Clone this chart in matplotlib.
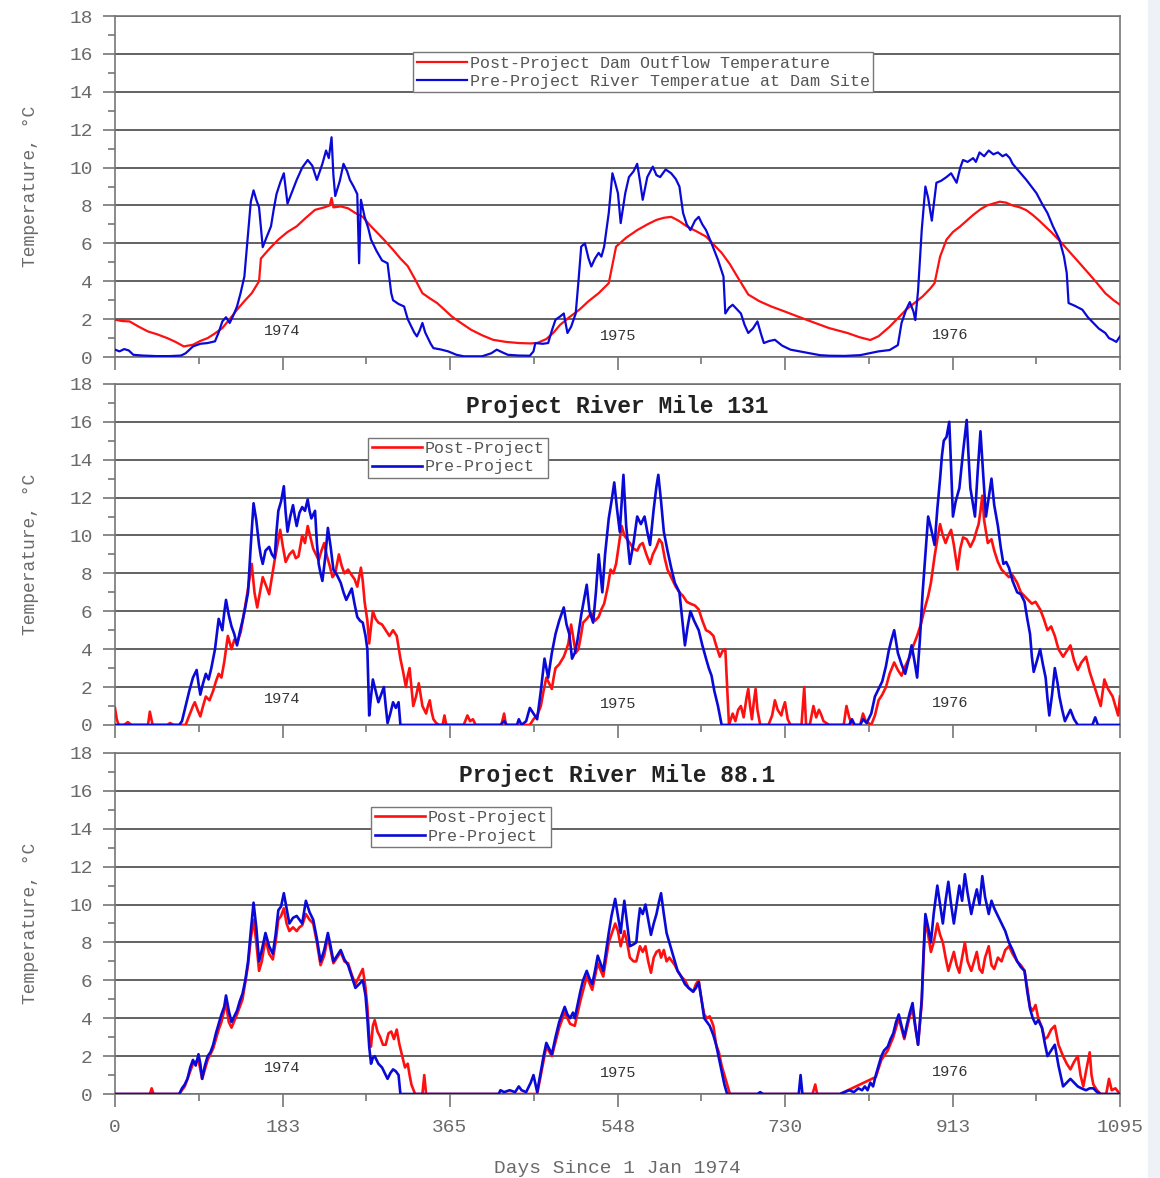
import numpy as np
import matplotlib
matplotlib.use('Agg')
import matplotlib.pyplot as plt
from matplotlib.patches import Rectangle
from matplotlib.ticker import MultipleLocator

plt.rcParams['font.family'] = ['Liberation Mono', 'DejaVu Sans']

# (day, temperature degC)
top_post = [(0,1.97),(8,1.9),(16,1.88),(26,1.6),(36,1.35),(46,1.2),(57,1.0),(66,0.8),(75,0.56),(85,0.65),(93,0.85),(101,1.0),(109,1.25),(117,1.53),(125,2.0),(133,2.5),(141,2.95),(149,3.37),(157,4.0),(159,5.2),(168,5.7),(178,6.2),(188,6.6),(198,6.9),(208,7.35),(218,7.77),(228,7.9),(234,8.0),(236,8.4),(238,7.9),(246,7.95),(254,7.85),(262,7.6),(270,7.4),(277,7.0),(283,6.7),(293,6.2),(303,5.66),(311,5.2),(319,4.8),(327,4.1),(335,3.37),(343,3.1),(351,2.85),(359,2.5),(367,2.14),(377,1.8),(388,1.44),(400,1.15),(412,0.91),(426,0.8),(440,0.74),(452,0.72),(460,0.74),(470,0.95),(478,1.3),(485,1.7),(495,2.1),(506,2.5),(516,2.95),(527,3.37),(538,3.9),(546,5.83),(557,6.3),(569,6.7),(580,7.0),(590,7.24),(598,7.35),(606,7.4),(614,7.2),(623,6.9),(633,6.65),(644,6.36),(652,5.95),(661,5.5),(670,4.9),(678,4.25),(690,3.3),(702,2.95),(715,2.67),(730,2.4),(744,2.14),(760,1.85),(778,1.53),(798,1.27),(811,1.05),(823,0.9),(832,1.1),(844,1.6),(853,2.05),(862,2.5),(871,2.85),(880,3.2),(888,3.6),(893,3.9),(899,5.3),(906,6.2),(913,6.6),(921,6.9),(928,7.2),(935,7.5),(943,7.8),(950,8.0),(957,8.1),(964,8.2),(971,8.15),(978,8.0),(986,7.9),(993,7.75),(1000,7.5),(1007,7.2),(1020,6.6),(1030,6.1),(1041,5.5),(1052,4.9),(1062,4.35),(1070,3.9),(1079,3.37),(1088,3.0),(1095,2.76)]

top_pre = [(0,0.39),(5,0.3),(10,0.42),(15,0.35),(20,0.12),(30,0.08),(45,0.05),(60,0.05),(72,0.08),(77,0.2),(85,0.56),(93,0.7),(101,0.74),(109,0.83),(113,1.3),(117,1.88),(121,2.1),(125,1.8),(129,2.2),(133,2.67),(137,3.4),(141,4.25),(145,6.5),(148,8.2),(151,8.8),(154,8.3),(157,7.9),(161,5.8),(165,6.3),(170,6.9),(173,7.8),(176,8.6),(180,9.2),(184,9.7),(188,8.1),(192,8.6),(198,9.35),(204,10.0),(210,10.4),(215,10.1),(220,9.35),(226,10.2),(230,10.9),(233,10.5),(236,11.6),(238,9.6),(240,8.5),(245,9.3),(249,10.2),(253,9.8),(256,9.35),(260,9.0),(264,8.6),(266,4.95),(268,8.3),(272,7.4),(276,6.8),(279,6.2),(285,5.6),(291,5.1),(297,4.95),(301,3.37),(303,3.0),(309,2.8),(315,2.67),(319,2.0),(323,1.6),(326,1.3),(329,1.09),(332,1.4),(335,1.8),(338,1.3),(341,1.0),(344,0.7),(347,0.47),(355,0.4),(363,0.3),(372,0.12),(380,0.04),(400,0.04),(410,0.2),(416,0.39),(422,0.25),(428,0.12),(440,0.08),(452,0.07),(456,0.3),(458,0.74),(466,0.7),(472,0.74),(476,1.4),(480,1.97),(485,2.14),(489,2.3),(493,1.27),(497,1.6),(502,2.3),(505,4.0),(508,5.83),(512,6.0),(516,5.2),(519,4.78),(523,5.2),(527,5.5),(530,5.3),(533,5.83),(538,7.6),(542,9.7),(545,9.2),(548,8.65),(551,7.07),(556,8.65),(560,9.5),(565,9.8),(569,10.2),(572,9.3),(575,8.3),(580,9.5),(586,10.05),(590,9.6),(594,9.5),(600,9.9),(606,9.7),(611,9.4),(615,9.0),(619,7.6),(623,7.0),(627,6.7),(632,7.2),(636,7.4),(640,7.0),(644,6.7),(650,6.0),(657,5.13),(663,4.25),(665,2.3),(669,2.6),(673,2.76),(678,2.5),(682,2.3),(686,1.7),(690,1.27),(695,1.5),(700,1.88),(704,1.2),(707,0.74),(713,0.85),(719,0.91),(727,0.6),(736,0.39),(746,0.3),(757,0.2),(768,0.1),(778,0.07),(795,0.06),(812,0.1),(822,0.2),(832,0.3),(844,0.37),(853,0.63),(857,1.8),(862,2.5),(866,2.9),(870,2.4),(872,1.95),(875,3.5),(879,6.7),(883,9.0),(886,8.4),(890,7.2),(895,9.2),(900,9.3),(906,9.5),(911,9.7),(917,9.2),(921,10.0),(924,10.4),(929,10.3),(935,10.5),(938,10.3),(942,10.8),(947,10.6),(952,10.9),(957,10.7),(962,10.8),(967,10.6),(971,10.7),(975,10.5),(978,10.2),(985,9.8),(993,9.35),(1004,8.65),(1010,8.1),(1016,7.6),(1022,6.9),(1029,6.2),(1034,5.3),(1037,4.43),(1039,2.85),(1046,2.7),(1054,2.5),(1060,2.1),(1066,1.8),(1072,1.5),(1079,1.27),(1083,1.0),(1087,0.91),(1091,0.8),(1095,1.09)]

rm131_post = [(0,0.9),(2,0.3),(4,0),(10,0),(14,0.15),(18,0),(36,0),(38,0.7),(41,0),(57,0),(60,0.1),(64,0),(77,0),(81,0.5),(85,1.0),(87,1.2),(90,0.8),(93,0.45),(96,1.0),(99,1.5),(103,1.3),(107,1.8),(110,2.3),(113,2.7),(116,2.5),(119,3.3),(123,4.7),(127,4.0),(130,4.5),(133,4.3),(137,4.9),(141,6.0),(145,7.2),(149,8.5),(152,7.0),(155,6.2),(158,7.0),(161,7.8),(165,7.3),(168,6.9),(171,7.8),(174,8.7),(177,9.5),(180,10.3),(183,9.4),(186,8.6),(190,9.0),(194,9.2),(197,8.8),(200,8.9),(204,10.0),(207,9.6),(210,10.5),(213,9.9),(216,9.3),(219,9.0),(222,8.7),(225,9.2),(228,9.6),(231,8.9),(234,8.4),(237,7.8),(240,8.0),(244,9.0),(247,8.4),(250,8.0),(254,8.2),(258,7.9),(261,7.7),(264,7.3),(266,7.8),(268,8.3),(270,7.6),(272,6.5),(275,5.5),(277,4.3),(279,5.2),(281,6.0),(284,5.6),(287,5.4),(291,5.3),(295,5.0),(299,4.7),(303,5.0),(307,4.7),(309,4.1),(311,3.5),(314,2.8),(317,2.0),(319,2.6),(321,3.0),(323,2.0),(325,1.0),(328,1.5),(331,2.2),(333,1.6),(335,1.0),(337,0.8),(339,0.6),(341,1.0),(343,1.3),(345,0.7),(347,0.3),(350,0.1),(353,0),(357,0),(359,0.5),(361,0),(380,0),(384,0.5),(387,0.2),(390,0.3),(393,0),(421,0),(424,0.6),(426,0),(452,0),(456,0.3),(460,0.5),(464,1.0),(467,1.8),(470,2.5),(473,2.2),(476,1.9),(478,2.5),(480,3.0),(484,3.2),(489,3.6),(492,4.0),(494,4.3),(497,5.3),(500,4.4),(502,3.8),(505,4.0),(508,4.8),(510,5.4),(514,5.6),(519,5.9),(523,5.5),(527,5.7),(530,6.1),(533,6.4),(537,7.3),(540,8.2),(543,8.0),(546,8.5),(549,9.5),(552,10.5),(555,10.0),(558,9.8),(561,9.6),(565,9.3),(569,9.2),(572,9.5),(575,9.6),(579,9.0),(583,8.5),(586,9.0),(590,9.4),(593,9.8),(596,9.6),(599,8.8),(602,8.2),(606,7.8),(611,7.3),(615,7.0),(619,6.8),(623,6.5),(627,6.4),(632,6.3),(636,6.1),(640,5.5),(644,5.0),(648,4.9),(652,4.7),(655,4.2),(659,3.6),(662,3.9),(665,4.0),(667,2.0),(669,0),(671,0.3),(673,0.6),(676,0.2),(679,0.8),(682,1.0),(685,0.4),(688,1.4),(690,1.9),(692,1.0),(694,0.3),(696,1.2),(698,1.9),(700,0.8),(703,0),(712,0),(716,0.5),(719,1.3),(722,0.8),(726,0.5),(728,0.9),(730,1.2),(733,0.3),(736,0),(748,0),(751,2.0),(753,0),(757,0),(761,1.0),(764,0.4),(767,0.8),(769,0.6),(772,0.2),(778,0),(794,0),(797,1.0),(800,0.4),(803,0),(812,0),(815,0.6),(818,0.2),(824,0),(828,0.5),(832,1.3),(836,1.6),(840,2.0),(844,2.7),(849,3.3),(853,2.9),(857,2.6),(861,3.1),(866,3.6),(870,4.2),(874,4.7),(878,5.3),(882,6.1),(886,6.8),(889,7.5),(893,8.9),(896,9.8),(899,10.6),(902,10.0),(905,9.6),(908,10.0),(911,10.3),(914,9.5),(918,8.2),(921,9.3),(924,9.9),(928,9.8),(932,9.4),(936,9.8),(939,10.3),(941,10.6),(943,11.3),(945,12.1),(947,10.8),(951,9.6),(955,9.8),(958,9.2),(962,8.6),(966,8.2),(970,8.0),(974,7.8),(978,7.9),(983,7.5),(987,7.0),(991,6.8),(995,6.6),(999,6.4),(1003,6.5),(1008,6.1),(1012,5.6),(1016,5.0),(1020,5.2),(1024,4.7),(1028,4.0),(1033,3.6),(1037,3.9),(1041,4.2),(1045,3.4),(1049,2.9),(1053,3.3),(1058,3.6),(1062,2.8),(1066,2.2),(1070,1.6),(1074,1.0),(1078,2.4),(1082,1.9),(1087,1.5),(1090,1.0),(1093,0.5),(1095,1.5)]

rm131_pre = [(0,0),(70,0),(73,0.2),(77,1.0),(81,1.8),(85,2.5),(89,2.9),(91,2.2),(93,1.6),(96,2.2),(99,2.7),(102,2.4),(105,3.0),(109,4.0),(113,5.6),(115,5.3),(117,5.0),(119,5.9),(121,6.6),(124,5.8),(127,5.2),(130,4.8),(133,4.2),(136,4.9),(139,5.5),(142,6.2),(145,7.0),(148,9.5),(151,11.7),(154,10.8),(157,9.5),(159,8.9),(161,8.5),(164,9.2),(168,9.4),(171,9.0),(174,8.8),(176,10.2),(178,11.3),(181,11.8),(184,12.6),(186,11.2),(188,10.2),(191,11.0),(194,11.6),(196,11.0),(198,10.5),(201,11.2),(204,11.5),(207,11.3),(210,11.9),(212,11.3),(214,10.9),(216,11.1),(218,11.3),(220,9.6),(222,8.5),(224,8.0),(226,7.6),(229,8.8),(232,10.4),(235,9.4),(238,8.2),(242,7.9),(246,7.5),(249,7.0),(252,6.6),(255,6.9),(258,7.2),(261,6.4),(264,5.7),(267,5.5),(270,5.4),(273,4.7),(275,4.0),(277,0.5),(279,1.5),(281,2.4),(284,1.8),(287,1.2),(290,1.6),(293,2.0),(295,1.0),(297,0.1),(300,0.6),(303,1.2),(306,0.9),(309,1.2),(311,0),(420,0),(424,0.2),(427,0),(438,0),(440,0.3),(443,0),(448,0.2),(452,0.9),(456,0.6),(460,0.3),(464,1.8),(468,3.5),(472,2.5),(476,3.8),(480,4.8),(484,5.5),(489,6.2),(492,5.3),(495,4.8),(498,3.5),(501,3.8),(504,4.5),(508,5.8),(511,6.6),(514,7.4),(517,6.0),(521,5.4),(524,7.0),(527,9.0),(529,8.0),(531,7.0),(534,9.0),(538,10.9),(541,11.8),(544,12.8),(547,11.4),(550,10.2),(552,11.7),(554,13.2),(557,10.5),(561,8.5),(565,9.6),(569,11.0),(573,10.6),(577,11.0),(580,10.2),(583,9.5),(587,11.4),(590,12.6),(592,13.2),(595,11.8),(598,10.2),(602,9.2),(606,8.3),(610,7.5),(615,7.0),(618,5.6),(621,4.2),(624,5.2),(627,6.0),(631,5.5),(636,5.0),(640,4.2),(644,3.5),(647,3.0),(650,2.6),(653,1.8),(657,1.0),(661,0),(800,0),(803,0.3),(806,0),(812,0),(815,0.3),(819,0.1),(824,0.6),(828,1.5),(832,1.9),(836,2.3),(840,3.1),(843,3.9),(846,4.5),(849,5.0),(853,3.8),(857,3.2),(861,2.7),(865,3.5),(868,4.2),(871,3.4),(874,2.5),(877,4.5),(880,7.0),(883,9.0),(886,11.0),(889,10.4),(893,9.5),(896,11.4),(899,13.0),(901,14.2),(903,15.0),(906,15.2),(909,16.0),(911,13.6),(913,11.0),(916,11.8),(920,12.5),(924,14.4),(928,16.1),(930,14.2),(932,12.5),(935,11.6),(937,11.0),(940,13.4),(943,15.5),(946,13.2),(949,11.0),(952,12.0),(955,13.0),(958,11.6),(962,10.5),(965,9.4),(968,8.5),(971,8.6),(974,8.3),(978,7.6),(983,7.0),(987,6.9),(991,6.5),(994,5.6),(997,4.8),(999,3.6),(1001,2.8),(1004,3.3),(1008,4.0),(1011,3.2),(1014,2.5),(1016,1.4),(1018,0.5),(1021,1.6),(1024,3.0),(1027,2.2),(1029,1.5),(1032,0.8),(1035,0.2),(1038,0.5),(1041,0.8),(1045,0.3),(1049,0),(1065,0),(1068,0.4),(1071,0),(1095,0)]

rm88_post = [(0,0),(38,0),(40,0.3),(42,0),(70,0),(76,0.4),(82,1.2),(85,1.6),(91,1.8),(95,0.8),(101,1.8),(107,2.4),(113,3.4),(116,3.8),(121,4.8),(124,3.8),(127,3.5),(133,4.2),(139,5.0),(145,6.8),(148,8.2),(151,9.2),(154,8.0),(157,6.5),(160,7.0),(164,8.2),(168,7.4),(172,7.1),(175,8.0),(178,9.2),(181,9.4),(184,9.8),(187,9.0),(190,8.6),(194,8.8),(198,8.6),(201,8.8),(204,8.9),(208,9.5),(212,9.2),(216,9.0),(220,8.0),(224,6.8),(228,7.3),(232,8.3),(235,7.6),(238,6.9),(242,7.2),(246,7.5),(250,7.0),(254,6.9),(258,6.3),(262,5.8),(266,6.2),(270,6.6),(273,5.6),(275,4.6),(277,3.0),(279,2.5),(281,3.6),(283,3.9),(286,3.3),(289,3.0),(292,2.6),(295,2.6),(298,3.2),(301,3.3),(304,2.9),(307,3.4),(310,2.6),(313,2.0),(316,1.4),(319,1.6),(321,1.0),(323,0.5),(327,0),(335,0),(337,1.0),(339,0),(460,0),(464,1.0),(470,2.5),(476,2.0),(484,3.5),(490,4.3),(496,3.7),(501,3.6),(507,4.9),(514,6.2),(520,5.5),(526,6.9),(532,6.2),(538,8.0),(545,9.0),(548,8.6),(551,7.8),(555,8.6),(558,8.0),(561,7.2),(565,7.0),(568,7.0),(572,7.8),(575,7.5),(578,7.8),(581,7.0),(584,6.4),(587,7.2),(590,7.5),(593,7.6),(595,7.2),(598,7.6),(601,7.0),(604,7.2),(607,7.0),(610,6.8),(613,6.5),(617,6.2),(621,6.0),(625,5.6),(630,5.4),(633,5.8),(636,6.0),(639,5.0),(642,4.2),(645,4.0),(648,4.1),(652,3.6),(655,2.6),(658,2.2),(661,1.5),(664,1.0),(667,0.5),(670,0),(760,0),(763,0.5),(765,0),(790,0),(829,0.9),(835,1.8),(842,2.3),(848,3.0),(854,4.0),(860,2.9),(866,4.1),(869,4.5),(872,3.5),(875,2.6),(879,4.8),(881,7.2),(883,9.2),(886,8.4),(889,7.5),(892,8.0),(896,9.0),(899,8.4),(902,8.0),(905,7.2),(908,6.5),(911,7.0),(914,7.5),(917,6.8),(920,6.4),(923,7.2),(926,8.0),(929,7.0),(933,6.5),(936,7.0),(939,7.5),(942,6.6),(945,6.4),(948,7.2),(952,7.8),(955,6.8),(958,6.6),(962,7.2),(966,7.0),(970,7.6),(974,7.8),(978,7.4),(983,7.0),(987,6.8),(991,6.5),(994,5.6),(997,4.6),(1000,4.4),(1003,4.7),(1006,4.0),(1010,3.5),(1013,2.9),(1016,3.0),(1020,3.4),(1024,3.6),(1028,2.6),(1033,2.0),(1037,1.6),(1041,1.3),(1045,1.7),(1049,2.0),(1052,1.0),(1055,0.4),(1058,1.2),(1062,2.2),(1064,1.0),(1066,0.5),(1070,0.2),(1074,0),(1080,0),(1083,0.8),(1086,0.2),(1090,0.3),(1095,0)]

rm88_pre = [(0,0),(70,0),(73,0.3),(76,0.5),(79,0.8),(82,1.4),(85,1.8),(88,1.5),(91,2.1),(93,1.6),(95,0.8),(98,1.5),(101,2.0),(104,2.2),(107,2.6),(110,3.2),(113,3.7),(116,4.2),(119,4.6),(121,5.2),(124,4.4),(127,3.8),(130,4.1),(133,4.4),(136,4.9),(139,5.3),(142,6.0),(145,7.0),(148,8.6),(151,10.1),(154,8.8),(157,7.0),(160,7.6),(164,8.5),(168,7.8),(172,7.4),(175,8.4),(178,9.7),(181,9.9),(184,10.6),(187,9.8),(190,9.0),(194,9.3),(198,9.4),(201,9.2),(204,9.0),(206,9.6),(208,10.2),(212,9.6),(216,9.2),(220,8.2),(224,7.0),(228,7.6),(232,8.5),(235,7.8),(238,7.0),(242,7.3),(246,7.6),(250,7.1),(254,6.8),(258,6.2),(262,5.6),(266,5.8),(270,6.0),(273,5.2),(275,4.0),(277,2.5),(279,1.6),(281,1.9),(283,2.0),(287,1.6),(291,1.4),(294,1.1),(297,0.8),(300,1.1),(303,1.3),(306,1.2),(309,1.0),(311,0),(418,0),(420,0.2),(424,0.1),(430,0.2),(436,0.1),(440,0.4),(443,0.2),(448,0.1),(453,0.6),(456,1.0),(460,0.1),(464,1.2),(467,2.0),(470,2.7),(473,2.4),(476,2.1),(480,3.0),(484,3.8),(487,4.2),(490,4.6),(493,4.2),(496,4.0),(499,4.3),(501,4.0),(504,4.7),(507,5.4),(510,6.0),(514,6.5),(517,6.1),(520,5.8),(523,6.5),(526,7.3),(529,6.9),(532,6.5),(535,7.5),(538,8.5),(541,9.4),(545,10.3),(548,9.4),(551,8.5),(553,9.4),(555,10.2),(558,9.0),(561,7.8),(565,7.9),(568,8.0),(570,9.0),(572,9.8),(575,9.5),(578,10.0),(581,9.2),(584,8.4),(587,9.0),(590,9.5),(593,10.2),(595,10.6),(598,9.5),(601,8.5),(604,8.0),(607,7.5),(610,7.0),(613,6.5),(617,6.2),(621,5.8),(625,5.6),(630,5.4),(633,5.6),(636,5.9),(639,5.0),(642,4.0),(645,3.8),(648,3.6),(652,3.1),(655,2.6),(658,1.9),(661,1.2),(664,0.5),(667,0),(700,0),(703,0.1),(706,0),(745,0),(747,1.0),(749,0),(790,0),(795,0.1),(800,0.2),(805,0.1),(810,0.3),(814,0.2),(817,0.4),(820,0.2),(823,0.6),(826,0.4),(829,1.0),(832,1.5),(835,2.0),(838,2.3),(842,2.5),(845,2.9),(848,3.2),(851,3.8),(854,4.2),(857,3.6),(860,3.0),(863,3.7),(866,4.3),(869,4.8),(872,3.6),(875,2.6),(877,3.8),(879,5.0),(881,7.5),(883,9.5),(886,8.8),(889,8.0),(892,9.5),(896,11.0),(899,10.0),(902,9.0),(905,10.2),(908,11.2),(911,10.0),(914,9.0),(917,10.0),(920,11.0),(923,10.2),(926,11.6),(929,10.6),(933,9.5),(936,10.2),(939,10.8),(942,10.0),(945,11.5),(948,10.4),(952,9.5),(955,10.2),(958,9.8),(962,9.4),(966,9.0),(970,8.6),(974,8.0),(978,7.6),(983,7.0),(987,6.7),(991,6.5),(994,5.4),(997,4.5),(1000,4.0),(1003,3.7),(1006,3.9),(1010,3.5),(1013,2.7),(1016,2.0),(1020,2.3),(1024,2.6),(1028,1.5),(1033,0.4),(1037,0.6),(1041,0.8),(1045,0.6),(1049,0.4),(1053,0.3),(1058,0.2),(1062,0.3),(1066,0.3),(1070,0.1),(1074,0),(1095,0)]

x_ticks = [0, 183, 365, 548, 730, 913, 1095]
x_minor = [91.5, 274, 456.5, 639, 821.5, 1004]
years = ['1974', '1975', '1976']
year_pos = [(182, 1.35), (548, 1.1), (910, 1.15)]
titles = [None, 'Project River Mile 131', 'Project River Mile 88.1']
legend_labels = [('Post-Project Dam Outflow Temperature', 'Pre-Project River Temperatue at Dam Site'),
                 ('Post-Project', 'Pre-Project'),
                 ('Post-Project', 'Pre-Project')]
series = [(top_post, top_pre), (rm131_post, rm131_pre), (rm88_post, rm88_pre)]

RED = '#ff1010'
BLUE = '#0a0ad8'
GRID = '#555555'
TXT = '#6a6a6a'

fig = plt.figure(figsize=(11.6, 11.78), dpi=100)
fig.add_artist(Rectangle((1148/1160, 0), 12/1160, 1, transform=fig.transFigure,
                         color='#eef2f7', zorder=0))

left, width, height = 0.0991, 0.8664, 0.2895
bottoms = [0.6969, 0.3846, 0.0713]
legend_anchor = [(0.297, 0.894), (0.252, 0.842), (0.255, 0.842)]
line_w = [1.6, 1.9, 1.9]

for i in range(3):
    ax = fig.add_axes([left, bottoms[i], width, height])
    post, pre = series[i]
    pd_, pt_ = zip(*post)
    rd_, rt_ = zip(*pre)
    ax.plot(pd_, pt_, color=RED, lw=line_w[i], label=legend_labels[i][0], zorder=3)
    ax.plot(rd_, rt_, color=BLUE, lw=line_w[i], label=legend_labels[i][1], zorder=4)

    ax.set_xlim(0, 1095)
    ax.set_ylim(0, 18)
    ax.set_xticks(x_ticks)
    ax.set_xticks(x_minor, minor=True)
    ax.yaxis.set_major_locator(MultipleLocator(2))
    ax.yaxis.set_minor_locator(MultipleLocator(1))
    ax.grid(axis='y', which='major', color=GRID, lw=1.3, zorder=1)
    ax.tick_params(which='both', direction='out', color='#777777', labelcolor=TXT,
                   labelsize=14, width=1.2, top=False, right=False)
    ax.tick_params(which='major', length=9)
    ax.tick_params(which='minor', length=5)
    ax.tick_params(axis='x', which='major', pad=9)
    ax.tick_params(axis='y', which='major', pad=7)
    for s in ax.spines.values():
        s.set_color('#777777')
        s.set_linewidth(1.2)
    if i < 2:
        ax.set_xticklabels([])
    else:
        ax.set_xlabel('Days Since 1 Jan 1974', fontsize=14, color=TXT, labelpad=17)

    ax.set_ylabel('Temperature, °C', fontsize=13, color=TXT)
    ax.yaxis.set_label_coords(-0.076, 0.5)

    for yr, (xd, yt) in zip(years, year_pos):
        ax.text(xd, yt, yr, ha='center', va='center', fontsize=11, color='#333333', zorder=5)

    if titles[i]:
        ax.text(0.5, 16.8, titles[i], transform=ax.get_yaxis_transform(), ha='center',
                va='center', fontsize=16.5, fontweight='bold', color='#222222', zorder=5)

    leg = ax.legend(loc='upper left', bbox_to_anchor=legend_anchor[i], fontsize=12,
                    frameon=True, fancybox=False, framealpha=1, edgecolor='#777777',
                    handlelength=3.0, handletextpad=0.2, borderpad=0.2,
                    labelspacing=0.2, borderaxespad=0)
    leg.get_frame().set_linewidth(1.0)
    for t in leg.get_texts():
        t.set_color('#555555')
    leg.set_zorder(6)

fig.savefig('out.png', dpi=100)
